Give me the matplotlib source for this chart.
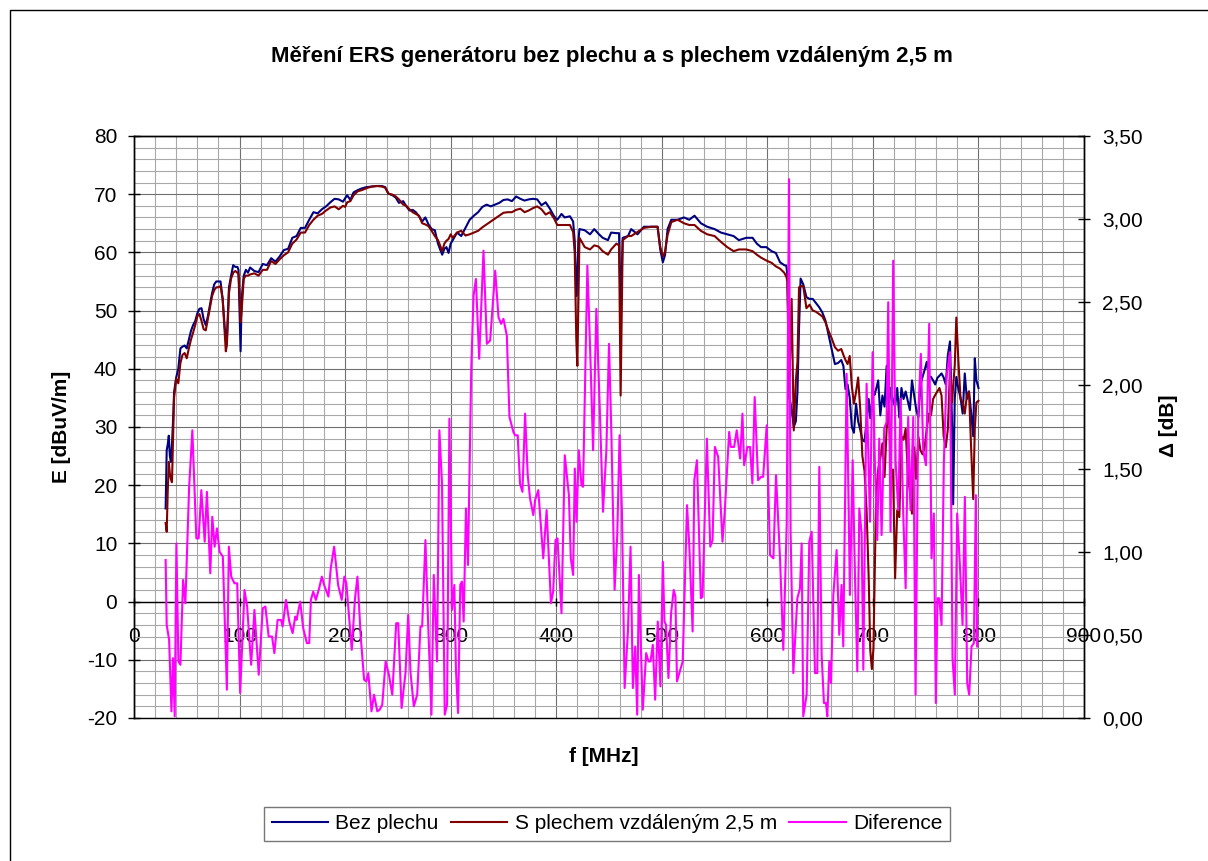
import matplotlib.pyplot as plt
from matplotlib.ticker import MultipleLocator, FuncFormatter
from matplotlib.patches import Rectangle

plt.rcParams['font.family'] = ['Liberation Sans', 'DejaVu Sans']
plt.rcParams['axes.unicode_minus'] = False

# kmitočty měření pole E [MHz]
f_e = [
    30, 31, 32, 33, 34, 35, 36, 37, 38, 40, 42, 44, 46, 48, 50, 52, 54, 56, 58, 60,
    62, 64, 66, 68, 70, 72, 74, 76, 78, 80, 82, 84, 86, 87, 88, 90, 92, 94, 96, 98,
    99, 100, 101, 102, 104, 106, 108,
    110, 114, 118, 122, 126, 130, 134, 138, 142, 146, 150, 154, 158, 162, 166, 170,
    174, 178, 182, 186, 190, 194, 198,
    200, 202, 205, 208, 212, 216, 220, 225, 230, 235, 238, 241, 245, 248, 251, 255,
    258, 261, 264, 267, 270, 273, 276, 279, 282, 285, 288, 290, 292, 294, 296, 298,
    300, 302, 306, 310, 314, 318, 322, 326, 330, 334, 338, 342, 346, 350, 354, 358,
    362, 366, 370, 374, 378, 382, 386, 390, 394, 398,
    401, 405, 408, 413, 416, 417.5, 419, 420, 421, 422,
    427, 432, 436, 440, 444, 449, 452, 457, 459.5, 461,
    463, 468, 471, 477, 483, 490, 496, 498.5, 501, 503,
    505.5, 509, 515, 521, 526, 531, 537, 543, 550, 556,
    562, 568, 573, 580, 586, 590, 594,
    599, 604, 608, 612, 616, 618, 619, 620, 621, 623,
    625, 627, 628.5, 630, 631.5, 634, 637, 640, 643, 646,
    649, 652, 655, 658, 661, 664, 667, 670, 672, 674,
    676, 678, 680, 682, 684, 686, 688, 690, 692, 694,
    696, 697.5, 699, 700.5, 701.5, 703, 705, 707, 709, 711,
    713, 715, 717, 719, 721, 723, 725, 727, 729, 731,
    733, 735, 737, 739, 741, 743, 745, 747, 749, 751,
    753, 755, 757, 759, 761, 763, 765, 767, 769, 771,
    773, 775, 776, 777.5, 779, 781, 783, 785, 787, 789,
    791, 793, 795, 796.5, 798, 800,
]

# bez plechu [dBuV/m]
e_bez = [
    16, 26, 27, 28.5, 25, 24, 27, 31, 36, 38.5, 40, 43.5, 43.8, 44, 43.5, 45, 46.5, 47.5, 48.2, 49.5,
    50.3, 50.4, 48.5, 47.5, 49, 51, 53, 54.5, 55, 55, 55, 52, 47, 46, 45, 54, 56, 57.8, 57.5, 57.5,
    57, 50, 43, 52, 56, 57, 56.5,
    57.4, 56.8, 56.6, 58, 57.8, 59, 58.4, 59.3, 60.4, 60.6, 62.5, 62.8, 64.2, 64.2, 65.6, 66.9,
    66.7, 67.4, 67.9, 68.6, 69.2, 69.1, 68.7,
    69.3, 69.8, 69.0, 70.3, 70.7, 71, 71.2, 71.3, 71.4, 71.4, 71.2, 70.1, 69.8, 69.4, 68.5, 68.8,
    67.9, 67.2, 67.3, 66.9, 66.2, 65.3, 66, 64.8, 64, 63.8, 61.5, 60.5, 59.6, 60.6, 60.9, 59.9,
    61.5, 62.1, 63.4, 62.8, 64.2, 65.6, 66.3, 66.9, 67.8, 68.2, 67.9, 68.2, 68.5, 69, 69.1, 68.8,
    69.6, 69.2, 68.9, 69.1, 69.2, 69.1, 68.1, 68.6, 67.5, 66.2,
    65.6, 66.6, 66, 66.2, 65.3, 62, 52.5, 56, 62, 64,
    63.8, 63.1, 64, 63.2, 62.5, 62.1, 63.4, 63.3, 63.3, 50,
    62.5, 62.8, 64, 63.1, 64.4, 64.4, 64.4, 60.5, 58.3, 59.5,
    64, 65.6, 65.6, 66, 65.6, 66.3, 65, 64.4, 64, 63.4,
    63.1, 62.8, 62.1, 62.5, 62.5, 61.5, 60.9,
    60.9, 60.2, 59.9, 58.3, 57.8, 57.7, 56, 45, 35, 33,
    30, 31, 36, 47, 55.5, 54.5, 52.3, 52, 52, 51.3,
    50.6, 49.7, 48.3, 45.8, 43.3, 40.8, 41, 41.5, 40.5, 36.5,
    37.3, 35, 30, 29, 34, 31, 29.5, 27.8, 27.5, 31,
    34.8, 31.5, 34, 36.1, 35.5, 36.5, 38, 32, 35.4, 33.5,
    40.5, 33.5, 36.7, 34.5, 33.5, 36.7, 31.6, 36.7, 34.8, 36.1,
    34.5, 32.9, 38, 35.5, 33, 31.6, 37.3, 38.6, 39.8, 41.2,
    38.6, 38.6, 38, 37.3, 38.4, 38.8, 39.2, 38.5, 37.3, 42.4,
    44.7, 30, 16.7, 34.8, 38.6, 36.5, 35, 32.3, 39.2, 34.8,
    36.1, 32.5, 28.4, 41.8, 38, 36.7,
]

# s plechem ve vzdálenosti 2,5 m [dBuV/m]
e_plech = [
    13.5, 12, 19, 24, 22, 21, 20.5, 28, 35, 38.3, 37.5, 41, 42.4, 42.7, 41.8, 43.5, 45, 46.2, 47.5, 49,
    49.4, 48.2, 46.8, 46.6, 48.5, 50.5, 52.5, 53.5, 54, 54, 54.2, 52, 46, 43, 44, 53, 55.5, 56.5, 56.8, 56.5,
    56.2, 53, 48, 50, 55.5, 56, 56,
    56.2, 56.4, 56, 57, 57, 58.5, 58, 58.8, 59.5, 60, 61.5, 62.2, 63.4, 63.4, 64.7, 65.6,
    66.3, 66.6, 67.2, 67.7, 67.9, 67.4, 68,
    67.8, 68.6, 68.8, 69.8, 70.5, 70.7, 71, 71.3, 71.4, 71.3, 71.1, 70.1, 69.9, 69.6, 69.1, 68.2,
    68.0, 67.4, 66.9, 66.6, 66.3, 65, 64.8, 64.5, 63.7, 62.8, 62.1, 61.2, 60.2, 61.5, 62.0, 62.3,
    63.1, 62.5, 63.4, 63.7, 62.9, 63.1, 63.4, 63.7, 64.3, 64.8, 65.3, 65.8, 66.3, 66.8, 66.9, 66.9,
    67.3, 67.5, 66.9, 67.2, 67.6, 67.9, 67.4, 66.5, 66.9, 65.8,
    64.7, 64.7, 64.7, 64.7, 63.5, 60, 45, 40.5, 52, 62.5,
    60.9, 60.5, 61.2, 61, 60.2, 59.6, 60.5, 61.5, 61.2, 35.4,
    62.1, 62.8, 62.8, 63.5, 64.2, 64.4, 64.4, 61, 59.3, 60,
    63, 65.2, 65.6, 65, 64.7, 64.7, 63.7, 63.1, 62.8, 61.8,
    60.9, 60.2, 60.5, 60.5, 60.2, 59.6, 59.1,
    58.6, 58.2, 57.6, 57.2, 56.5, 55.8, 55, 42, 38.6, 52,
    29.4, 38, 41.2, 54, 54.2, 54.2, 50.4, 51, 50, 49.8,
    49.4, 49, 48, 46.5, 45.2, 43.7, 43.1, 43.4, 42.4, 41.5,
    40.8, 42.2, 37, 34, 36, 38.5, 33, 25, 22.5, 15.7,
    4, -8.4, -11.6, -8, 2.4, 18.3, 22.7, 24.6, 27.2, 21.4,
    29.7, 33.5, 22.1, 22.7, 4, 15.7, 14.5, 28.4, 27.8, 29.7,
    22.1, 18.9, 15.1, 26.5, 21.1, 28.4, 26, 25.3, 26.5, 29.7,
    32.3, 32, 34.8, 35.5, 36.1, 36.7, 35.4, 28.4, 26.5, 29.7,
    39.9, 34.2, 37, 40.5, 48.8, 41.2, 34.8, 34.2, 32.3, 35.4,
    36.1, 26.5, 17.6, 29.7, 34.2, 34.5,
]

# kmitočty pro rozdíl [MHz]
f_d = [
    30, 31, 33.3, 35.5, 37, 38.6, 40.2, 42.1, 44, 46.5,
    48.7, 52.2, 55.3, 59.1, 61.3, 63.8, 67, 69.1, 72.3, 74.2,
    76.4, 78.6, 81.1, 84.2, 88, 89.9, 92.1, 95.2, 97.8, 100.6,
    104.7, 107.2, 111, 114.1, 118.2, 122, 124.5, 127.6, 130.8, 133,
    136.1, 139.3, 140.8, 144, 147.1, 150.3, 152.8, 154, 157.5, 160.3,
    163.8, 166, 167.6, 169.8, 172.3, 175.4, 178, 180.1, 184.2, 186.4,
    189.6, 193.4, 196.8, 199.3, 201.2, 206.3, 209.4, 211.7, 214.8, 218,
    220, 222, 225, 227.4, 230.5, 232.7, 235.2, 238.4, 241.5, 244.7,
    248.4, 250.3, 253.5, 257.2, 259.8, 262, 265.1, 268.3, 271.4, 273,
    276.1, 278.6, 281.8, 284, 287.1, 289.3, 291.8, 294.4, 296.6, 298.8,
    301.3, 303.5, 305, 307, 309.1, 310.7, 312.3, 314.5, 316.4, 319.5,
    321.7, 323.9, 327, 331.1, 334.3, 337.4, 342.2, 345.3, 347.8, 350,
    353.2, 355.7, 359.4, 361, 363.5, 365.7, 368, 370.5, 373, 375.2,
    378.3, 380, 383, 387.7, 390.9, 395, 397.1, 399.3, 401.2, 405,
    408.1, 412, 413.8, 416, 417.6, 419.2, 421.4, 423.9, 425.4, 429.5,
    432.7, 434.9, 438, 441.2, 444.3, 447.5, 450, 452.2, 455.3, 457.8,
    460, 462.2, 464.8, 467.9, 470.4, 472.6, 474.8, 476.7, 478.3, 480.5,
    482, 485.2, 487.4, 489.3, 491.5, 493.7, 496.2, 498.7, 501, 502.5,
    504, 506.3, 508.8, 511.3, 512.9, 514.4, 516.6, 519.8, 523.9, 526.1,
    529.2, 530.8, 533.3, 537, 538.6, 542.7, 545.9, 548.1, 550.3, 553.4,
    557.5, 559.7, 563.8, 565.4, 568.5, 571, 574.2, 576.4, 578, 581.1,
    583.6, 585.8, 588, 591.2, 594, 596, 599.4, 602.5, 605.7, 608.2,
    612, 615.1, 618.3, 620.5, 622, 624.6, 628.4, 630.9, 632.5, 634,
    637.2, 639.7, 642, 645.1, 647.3, 649.2, 651.4, 653.6, 655.5, 656.8,
    658.7, 660.3, 662.5, 665.6, 668.1, 670.3, 671.9, 675.1, 678.2, 680.8,
    683, 685.2, 687.1, 689.3, 690.9, 694, 697.2, 699.7, 701.9, 704.1,
    706, 708.2, 710.7, 712.9, 714.5, 716.7, 719.2, 721.5, 724, 726.2,
    728.7, 731, 733.4, 735.6, 738.2, 740.4, 742.9, 745.4, 747.6, 750.2,
    753.3, 755.5, 757.7, 759.6, 761.2, 762.8, 765, 767.2, 769.7, 772.9,
    775.4, 777.6, 779.8, 782.3, 784.9, 787.1, 789.3, 791.2, 793.4, 795.6,
    797.5, 798.7,
]

# diference [dB]
d_diff = [
    0.95, 0.56, 0.47, 0.04, 0.36, 0.01, 1.05, 0.34, 0.32, 0.83,
    0.69, 1.38, 1.73, 1.08, 1.08, 1.37, 1.06, 1.36, 0.87, 1.21,
    1.03, 1.14, 1.00, 0.97, 0.17, 1.03, 0.85, 0.81, 0.81, 0.15,
    0.77, 0.67, 0.32, 0.65, 0.26, 0.66, 0.67, 0.49, 0.49, 0.39,
    0.59, 0.59, 0.55, 0.71, 0.58, 0.51, 0.61, 0.59, 0.70, 0.54,
    0.45, 0.45, 0.71, 0.76, 0.71, 0.78, 0.85, 0.80, 0.73, 0.90,
    1.03, 0.80, 0.71, 0.85, 0.81, 0.41, 0.72, 0.85, 0.49, 0.23,
    0.22, 0.27, 0.04, 0.14, 0.04, 0.05, 0.08, 0.34, 0.26, 0.14,
    0.57, 0.57, 0.06, 0.27, 0.62, 0.27, 0.07, 0.14, 0.55, 0.55,
    1.07, 0.58, 0.02, 0.86, 0.34, 1.73, 1.41, 0.02, 0.08, 1.80,
    0.65, 0.80, 0.29, 0.03, 0.80, 0.82, 0.58, 1.26, 0.92, 2.10,
    2.54, 2.64, 2.16, 2.81, 2.25, 2.27, 2.69, 2.41, 2.37, 2.40,
    2.30, 1.81, 1.72, 1.70, 1.70, 1.41, 1.36, 1.83, 1.46, 1.32,
    1.22, 1.31, 1.37, 0.96, 1.25, 0.69, 0.76, 1.07, 1.08, 0.63,
    1.58, 1.34, 0.96, 0.86, 1.50, 1.18, 1.61, 1.40, 1.39, 2.72,
    2.10, 1.61, 2.46, 1.87, 1.24, 1.61, 2.25, 1.72, 0.77, 1.10,
    1.70, 1.25, 0.18, 0.52, 1.03, 0.18, 0.43, 0.02, 0.86, 0.36,
    0.05, 0.39, 0.34, 0.34, 0.44, 0.11, 0.58, 0.19, 0.94, 0.58,
    0.56, 0.24, 0.63, 0.77, 0.73, 0.22, 0.27, 0.34, 1.28, 1.03,
    0.52, 1.43, 1.55, 0.72, 0.73, 1.68, 1.03, 1.07, 1.63, 1.57,
    1.06, 1.25, 1.72, 1.63, 1.63, 1.73, 1.56, 1.83, 1.52, 1.63,
    1.63, 1.41, 1.93, 1.43, 1.45, 1.45, 1.76, 0.98, 0.96, 1.46,
    0.96, 0.41, 1.16, 3.24, 1.12, 0.27, 0.72, 0.78, 1.05, 0.01,
    0.14, 1.06, 1.12, 0.27, 0.27, 1.51, 0.38, 0.09, 0.09, 0.01,
    0.34, 0.21, 0.74, 1.01, 0.50, 0.80, 0.43, 2.07, 0.74, 1.55,
    0.85, 0.28, 1.26, 1.11, 0.29, 2.01, 1.18, 2.20, 1.52, 1.07,
    1.68, 1.10, 1.74, 1.78, 2.50, 1.12, 2.75, 1.54, 1.25, 1.92,
    1.23, 0.78, 1.81, 1.25, 1.81, 0.14, 1.82, 2.19, 1.61, 1.52,
    2.37, 0.96, 1.23, 0.09, 0.72, 0.72, 0.56, 1.54, 2.05, 2.20,
    0.36, 0.14, 1.23, 0.93, 0.56, 1.33, 0.21, 0.14, 0.43, 0.45,
    1.34, 0.43,
]

labels = ["Bez plechu", "S plechem vzdáleným 2,5 m", "Diference"]

fig = plt.figure(figsize=(12.08, 8.61), dpi=100)
ax = fig.add_axes([0.1109, 0.1661, 0.7865, 0.6760])
ax2 = ax.twinx()

l1, = ax.plot(f_e, e_bez, color="#000080", lw=1.5)
l2, = ax.plot(f_e, e_plech, color="#800000", lw=1.5)
l3, = ax2.plot(f_d, d_diff, color="#ff00ff", lw=1.5)

ax.set_xlim(0, 900)
ax.set_ylim(-20, 80)
ax2.set_ylim(0, 3.5)

ax.xaxis.set_major_locator(MultipleLocator(100))
ax.xaxis.set_minor_locator(MultipleLocator(20))
ax.yaxis.set_major_locator(MultipleLocator(10))
ax.yaxis.set_minor_locator(MultipleLocator(2))
ax2.yaxis.set_major_locator(MultipleLocator(0.5))
ax2.yaxis.set_major_formatter(FuncFormatter(lambda v, p: f"{v:.2f}".replace(".", ",")))

ax.grid(which="major", color="#707070", lw=0.8)
ax.grid(which="minor", color="#a8a8a8", lw=0.8)
ax.set_axisbelow(True)

# osa x prochází nulou levé osy
ax.spines["bottom"].set_position(("data", 0))
for a in (ax, ax2):
    for s in a.spines.values():
        s.set_color("black")
        s.set_linewidth(1.0)

ax.tick_params(axis="x", which="major", direction="inout", length=6, width=1,
               pad=15, labelsize=15)
ax.tick_params(axis="x", which="minor", length=0)
ax.tick_params(axis="y", which="major", direction="inout", length=8, width=1,
               pad=8, labelsize=15)
ax.tick_params(axis="y", which="minor", length=0)
ax2.tick_params(axis="y", which="major", direction="inout", length=8, width=1,
                pad=9, labelsize=15)

fig.text(0.5066, 0.934, "Měření ERS generátoru bez plechu a s plechem vzdáleným 2,5 m",
         ha="center", va="center", fontsize=16, fontweight="bold")
fig.text(0.051, 0.504, "E [dBuV/m]", rotation=90, ha="center", va="center",
         fontsize=15, fontweight="bold")
fig.text(0.967, 0.505, "Δ [dB]", rotation=90, ha="center", va="center",
         fontsize=15, fontweight="bold")
fig.text(0.5, 0.121, "f [MHz]", ha="center", va="center",
         fontsize=15, fontweight="bold")

leg = fig.legend([l1, l2, l3], labels, loc="center", bbox_to_anchor=(0.5025, 0.043),
                 ncol=3, fontsize=15, frameon=True, fancybox=False, edgecolor="#555555",
                 handlelength=2.7, handletextpad=0.35, columnspacing=0.6,
                 borderpad=0.35, borderaxespad=0)
leg.get_frame().set_linewidth(1.0)

# rámeček celého grafu
fig.patches.append(Rectangle((0.0083, -0.5), 2, 1.4884, transform=fig.transFigure,
                             fill=False, edgecolor="black", lw=1))

fig.savefig("out.png", dpi=100)
